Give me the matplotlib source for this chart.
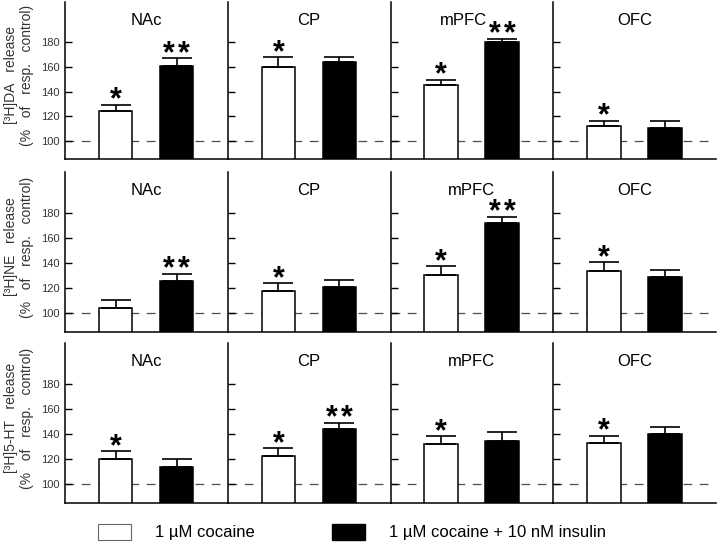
import numpy as np
import matplotlib
matplotlib.use('Agg')
import matplotlib.pyplot as plt
from matplotlib.patches import Patch

plt.rcParams['font.family'] = ['Liberation Sans', 'DejaVu Sans']

regions = ['NAc', 'CP', 'mPFC', 'OFC']
row_labels = [('[³H]DA   release', '(%   of   resp.   control)'),
              ('[³H]NE   release', '(%   of   resp.   control)'),
              ('[³H]5-HT   release', '(%   of   resp.   control)')]

# mean / error, rows = DA, NE, 5-HT
coc_mean = [[124, 160, 145, 112],
            [104, 118, 131, 134],
            [120, 123, 132, 133]]
coc_err = [[5, 8, 4.5, 4],
           [6.5, 6, 6.5, 7],
           [6.5, 6, 6.5, 6]]
ins_mean = [[161, 164, 180, 110],
            [126, 121, 172, 129],
            [114, 144, 135, 140]]
ins_err = [[6, 4.5, 3, 6],
           [5.5, 6, 5, 6],
           [6, 5, 7, 6]]
# significance marks: 1 = *, 2 = **
coc_sig = [[1, 1, 1, 1], [0, 1, 1, 1], [1, 1, 1, 1]]
ins_sig = [[2, 0, 2, 0], [2, 0, 2, 0], [0, 2, 0, 0]]

fig = plt.figure(figsize=(7.2, 5.44), dpi=100)

W, H = 720., 544.
col_left = 65.
col_w = (716. - 65.) / 4
rows_px = [(2, 159), (172, 332), (343, 503)]
bw = 0.55

for r in range(3):
    top, bot = rows_px[r]
    for c in range(4):
        ax = fig.add_axes([(col_left + c * col_w) / W, 1 - bot / H, col_w / W, (bot - top) / H])
        ax.axhline(100, color='#4d4d4d', lw=0.9, ls=(0, (7, 6)), zorder=0)
        ax.bar([1], [coc_mean[r][c]], width=bw, color='white', edgecolor='black', lw=1.1, zorder=2)
        ax.bar([2], [ins_mean[r][c]], width=bw, color='black', edgecolor='black', lw=1.1, zorder=2)
        ax.errorbar([1, 2], [coc_mean[r][c], ins_mean[r][c]],
                    yerr=[[0, 0], [coc_err[r][c], ins_err[r][c]]],
                    fmt='none', ecolor='black', elinewidth=1.2, capsize=11, capthick=1.2, zorder=3)
        # stars
        for x, m, e, s in [(1, coc_mean[r][c], coc_err[r][c], coc_sig[r][c]),
                           (2, ins_mean[r][c], ins_err[r][c], ins_sig[r][c])]:
            ytop = m + e
            if s == 1:
                ax.text(x, ytop - 3, '*', ha='center', va='baseline', fontsize=22, fontweight='bold')
            elif s == 2:
                for dx in (-0.125, 0.125):
                    ax.text(x + dx, ytop - 3, '*', ha='center', va='baseline', fontsize=22, fontweight='bold')
        tx = 0.45 if (r == 0 and c == 2) else 0.5
        ax.text(tx, 0.885, regions[c], transform=ax.transAxes, ha='center', va='center', fontsize=12)
        ax.set_xlim(0.17, 2.84)
        ax.set_ylim(85, 213)
        ax.set_yticks([100, 120, 140, 160, 180])
        ax.set_xticks([])
        ax.spines['top'].set_visible(False)
        ax.spines['right'].set_visible(False)
        ax.spines['left'].set_linewidth(1.1)
        ax.spines['bottom'].set_linewidth(1.1)
        ax.tick_params(axis='y', direction='in', length=5, width=1, labelsize=8, colors='black',
                       labelcolor='#333333', pad=4)
        if c > 0:
            ax.tick_params(axis='y', labelleft=False)
        else:
            l1, l2 = row_labels[r]
            yc = 1 - ((top + bot) / 2 - 5) / H
            fig.text(11 / W, yc, l1, rotation=90, ha='center', va='center', fontsize=10, color='#333333')
            fig.text(27 / W, yc, l2, rotation=90, ha='center', va='center', fontsize=10, color='#333333')

handles = [Patch(facecolor='white', edgecolor='#666666', lw=0.8),
           Patch(facecolor='black', edgecolor='black')]
fig.legend(handles, ['1 µM cocaine', '1 µM cocaine + 10 nM insulin'], loc='center',
           bbox_to_anchor=(0.489, 0.022), ncol=2, frameon=False, fontsize=12,
           handlelength=2.0, handleheight=1.08, handletextpad=1.45, columnspacing=4.6)

fig.savefig('out.png', dpi=100)
